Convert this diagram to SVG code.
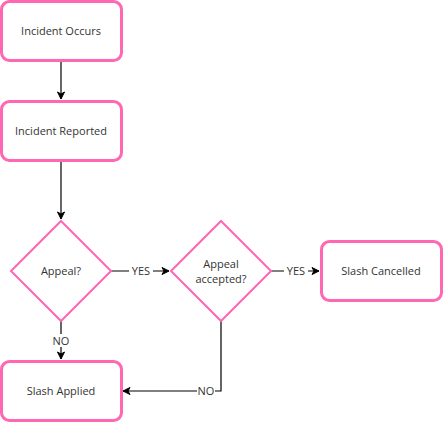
<svg xmlns="http://www.w3.org/2000/svg" width="443" height="423" viewBox="0 0 443 423">
<defs>
<marker id="arr" markerWidth="10" markerHeight="10" refX="8" refY="5" orient="auto" markerUnits="userSpaceOnUse">
<path d="M1,1.5 L8,5 L1,8.5 L3,5 Z" fill="#000" stroke="#000" stroke-width="1"/>
</marker>
<style>
.box{fill:#fff;stroke:#FF66B3;stroke-width:3}
.dia{fill:#fff;stroke:#FF66B3;stroke-width:2}
.t{font-family:"Open Sans",sans-serif;font-size:11px;fill:#333;text-anchor:middle}
.e{fill:none;stroke:#000;stroke-width:1.2}
.lbl{font-family:"Open Sans",sans-serif;font-size:11px;fill:#333;text-anchor:middle}
.lb{fill:#fff}
</style>
</defs>
<rect width="443" height="423" fill="#fff"/>
<g id="connectors">
<path class="e" d="M61,61 L61,99" marker-end="url(#arr)"/>
<path class="e" d="M61,161 L61,219" marker-end="url(#arr)"/>
<path class="e" d="M111,271 L169,271" marker-end="url(#arr)"/>
<path class="e" d="M271,271 L319,271" marker-end="url(#arr)"/>
<path class="e" d="M61,321 L61,359" marker-end="url(#arr)"/>
<path class="e" d="M221,321 L221,391 L123,391" marker-end="url(#arr)"/>
<rect class="lb" x="129" y="264" width="24" height="13"/>
<text class="lbl" x="141" y="275">YES</text>
<rect class="lb" x="284" y="264" width="24" height="13"/>
<text class="lbl" x="296" y="275">YES</text>
<rect class="lb" x="52" y="334" width="18" height="13"/>
<text class="lbl" x="61" y="345">NO</text>
<rect class="lb" x="197" y="384" width="18" height="13"/>
<text class="lbl" x="206" y="395">NO</text>
</g>
<g id="incident-occurs">
<rect class="box" x="1.5" y="1.5" width="120" height="59" rx="8"/>
<text class="t" x="61" y="35">Incident Occurs</text>
</g>
<g id="incident-reported">
<rect class="box" x="1.5" y="101.5" width="120" height="59" rx="8"/>
<text class="t" x="61" y="135">Incident Reported</text>
</g>
<g id="appeal">
<polygon class="dia" points="61,221 111,271 61,321 11,271"/>
<text class="t" x="61" y="275">Appeal?</text>
</g>
<g id="appeal-accepted">
<polygon class="dia" points="221,221 271,271 221,321 171,271"/>
<text class="t" x="221" y="268">Appeal</text>
<text class="t" x="221" y="283">accepted?</text>
</g>
<g id="slash-cancelled">
<rect class="box" x="321.5" y="241.5" width="120" height="59" rx="8"/>
<text class="t" x="381" y="275">Slash Cancelled</text>
</g>
<g id="slash-applied">
<rect class="box" x="1.5" y="361.5" width="120" height="59" rx="8"/>
<text class="t" x="61" y="395">Slash Applied</text>
</g>
</svg>
